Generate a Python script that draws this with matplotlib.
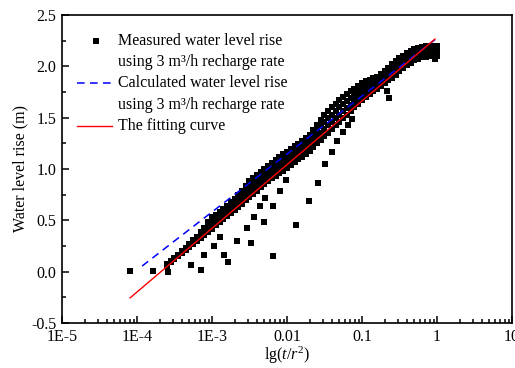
import matplotlib
matplotlib.use("Agg")
import matplotlib.pyplot as plt
from matplotlib.ticker import LogLocator, MultipleLocator, FixedLocator, FixedFormatter, NullFormatter

plt.rcParams['font.family'] = ['Liberation Serif', 'DejaVu Serif']
plt.rcParams['mathtext.fontset'] = 'custom'
plt.rcParams['mathtext.rm'] = 'Liberation Serif'
plt.rcParams['mathtext.it'] = 'Liberation Serif:italic'

# ---- measured data: main band (t/r^2 values and water level rise rows) ----
band_x = [2.51e-4, 3.16e-4, 3.98e-4, 5.01e-4, 6.31e-4, 7.94e-4, 1.0e-3, 1.26e-3, 1.58e-3,
          2.0e-3, 2.51e-3, 3.16e-3, 3.98e-3, 5.01e-3, 6.31e-3, 7.94e-3, 0.01, 0.0126, 0.0158,
          0.02, 0.0251, 0.0316, 0.0398, 0.0501, 0.0631, 0.0794, 0.1, 0.126, 0.158, 0.2,
          0.251, 0.316, 0.398, 0.501, 0.631, 0.794, 1.0]
band_y1 = [0.06, 0.12, 0.18, 0.24, 0.30, 0.36, 0.42, 0.48, 0.54, 0.60, 0.66, 0.73, 0.79,
           0.85, 0.91, 0.96, 1.01, 1.07, 1.12, 1.18, 1.25, 1.32, 1.39, 1.46, 1.53, 1.60,
           1.67, 1.73, 1.78, 1.84, 1.89, 1.95, 2.01, 2.06, 2.09, 2.10, 2.10]
band_y2 = [0.063, 0.123, 0.187, 0.25, 0.313, 0.383, 0.457, 0.513, 0.573, 0.637, 0.703, 0.78,
           0.84, 0.90, 0.96, 1.013, 1.063, 1.12, 1.17, 1.23, 1.31, 1.39, 1.46, 1.53, 1.597,
           1.66, 1.727, 1.777, 1.82, 1.877, 1.933, 1.993, 2.05, 2.097, 2.123, 2.133, 2.133]
band_y3 = [0.067, 0.127, 0.193, 0.26, 0.327, 0.407, 0.493, 0.547, 0.607, 0.673, 0.747, 0.83,
           0.89, 0.95, 1.01, 1.067, 1.117, 1.17, 1.22, 1.28, 1.37, 1.46, 1.53, 1.60, 1.663,
           1.72, 1.783, 1.823, 1.86, 1.913, 1.977, 2.037, 2.09, 2.133, 2.157, 2.167, 2.167]
band_y4 = [0.07, 0.13, 0.20, 0.27, 0.34, 0.43, 0.53, 0.58, 0.64, 0.71, 0.79, 0.88, 0.94,
           1.00, 1.06, 1.12, 1.17, 1.22, 1.27, 1.33, 1.43, 1.53, 1.60, 1.67, 1.73, 1.78,
           1.84, 1.87, 1.90, 1.95, 2.02, 2.08, 2.13, 2.17, 2.19, 2.20, 2.20]

# second set of band readings, between the first ones
band2_x = [2.82e-4, 3.55e-4, 4.47e-4, 5.62e-4, 7.08e-4, 8.91e-4, 1.12e-3, 1.41e-3, 1.78e-3,
           2.24e-3, 2.82e-3, 3.55e-3, 4.47e-3, 5.62e-3, 7.08e-3, 8.91e-3, 0.0112, 0.0141,
           0.0178, 0.0224, 0.0282, 0.0355, 0.0447, 0.0562, 0.0708, 0.0891, 0.112, 0.141,
           0.178, 0.224, 0.282, 0.355, 0.447, 0.562, 0.708, 0.891]
band2_y1 = [0.09, 0.15, 0.21, 0.27, 0.33, 0.39, 0.45, 0.51, 0.57, 0.63, 0.695, 0.76, 0.82,
            0.88, 0.935, 0.985, 1.04, 1.095, 1.15, 1.215, 1.285, 1.355, 1.425, 1.495, 1.565,
            1.635, 1.70, 1.755, 1.81, 1.865, 1.92, 1.98, 2.035, 2.075, 2.095, 2.10]
band2_y2 = [0.093, 0.155, 0.22, 0.28, 0.35, 0.42, 0.485, 0.543, 0.605, 0.67, 0.74, 0.81, 0.87,
            0.93, 0.987, 1.038, 1.09, 1.145, 1.20, 1.27, 1.35, 1.425, 1.495, 1.563, 1.628,
            1.693, 1.752, 1.80, 1.848, 1.905, 1.963, 2.02, 2.073, 2.11, 2.128, 2.133]
band2_y3 = [0.097, 0.16, 0.227, 0.293, 0.367, 0.45, 0.52, 0.577, 0.64, 0.71, 0.79, 0.86, 0.92,
            0.98, 1.038, 1.092, 1.143, 1.195, 1.25, 1.325, 1.415, 1.495, 1.565, 1.632, 1.692,
            1.752, 1.803, 1.842, 1.887, 1.945, 2.007, 2.063, 2.112, 2.145, 2.162, 2.167]
band2_y4 = [0.10, 0.165, 0.235, 0.305, 0.385, 0.48, 0.555, 0.61, 0.675, 0.75, 0.835, 0.91,
            0.97, 1.03, 1.09, 1.145, 1.195, 1.245, 1.30, 1.38, 1.48, 1.565, 1.635, 1.70, 1.755,
            1.81, 1.855, 1.885, 1.925, 1.985, 2.05, 2.105, 2.15, 2.18, 2.195, 2.20]

# ---- measured data: scattered points ----
scat_x = [8.07e-5, 1.62e-4, 2.61e-4, 5.25e-4, 7.19e-4, 7.82e-4, 1.05e-3, 1.29e-3, 1.45e-3,
          1.63e-3, 2.17e-3, 2.90e-3, 3.28e-3, 3.63e-3, 4.37e-3, 4.93e-3, 6.56e-3, 6.50e-3,
          5.09e-3, 8.07e-3, 9.70e-3, 0.0130, 0.0196, 0.0261, 0.0321, 0.0395, 0.0465, 0.0555,
          0.0656, 0.0736, 0.231, 0.213, 0.940, 0.885]
scat_y = [0.004, 0.010, 0.000, 0.062, 0.019, 0.166, 0.250, 0.338, 0.163, 0.094, 0.299, 0.430,
          0.279, 0.533, 0.640, 0.484, 0.150, 0.635, 0.715, 0.781, 0.893, 0.455, 0.688, 0.859,
          1.044, 1.168, 1.273, 1.360, 1.428, 1.487, 1.694, 1.764, 2.071, 2.139]

# ---- calculated and fitted lines ----
calc_x = [1.17e-4, 0.94]
calc_y = [0.055, 2.26]
fit_x = [8.1e-5, 0.94]
fit_y = [-0.255, 2.266]

xtick_vals = [1e-5, 1e-4, 1e-3, 1e-2, 1e-1, 1, 10]
xtick_labels = ['1E-5', '1E-4', '1E-3', '0.01', '0.1', '1', '10']

fig = plt.figure(figsize=(5.15, 3.68), dpi=100)
ax = fig.add_axes([62/515, 1-323/368, 450/515, 308/368])

ms = 4.8
for bx, rows in ((band_x, (band_y1, band_y2, band_y3, band_y4)),
                 (band2_x, (band2_y1, band2_y2, band2_y3, band2_y4))):
    for row in rows:
        ax.plot(bx, row, 's', color='black', ms=ms, mew=0, zorder=2)
ax.plot(scat_x, scat_y, 's', color='black', ms=ms, mew=0, zorder=2)
ax.plot(calc_x, calc_y, color='#0000ff', lw=1.1, dashes=(5, 3.5), zorder=3)
ax.plot(fit_x, fit_y, color='#ff0000', lw=1.0, zorder=4)

ax.set_xscale('log')
ax.set_xlim(1e-5, 10)
ax.set_ylim(-0.5, 2.5)
ax.xaxis.set_major_locator(FixedLocator(xtick_vals))
ax.xaxis.set_major_formatter(FixedFormatter(xtick_labels))
ax.xaxis.set_minor_locator(LogLocator(base=10, subs=range(2, 10), numticks=20))
ax.xaxis.set_minor_formatter(NullFormatter())
ax.yaxis.set_major_locator(MultipleLocator(0.5))
ax.yaxis.set_minor_locator(MultipleLocator(0.25))
ax.yaxis.set_major_formatter(plt.FuncFormatter(lambda v, p: f'{v:.1f}'))

ax.tick_params(which='both', direction='in', top=False, right=False, labelsize=11.5, width=1.1)
ax.tick_params(which='major', length=5, pad=4)
ax.tick_params(which='minor', length=3)
for s in ax.spines.values():
    s.set_linewidth(1.2)

ax.set_ylabel('Water level rise (m)', fontsize=11.5, labelpad=2)
ax.set_xlabel(r'lg($t$/$r^2$)', fontsize=11.5, labelpad=0)

# legend (drawn manually)
def axy(py):
    return (323 - py) / 308
def axx(px):
    return (px - 62) / 450

ax.plot([axx(96)], [axy(41)], 's', color='black', ms=ms, mew=0, transform=ax.transAxes, clip_on=False)
ax.plot([axx(77), axx(112)], [axy(83), axy(83)], color='#0000ff', lw=1.1, dashes=(5, 3.5),
        transform=ax.transAxes, clip_on=False)
ax.plot([axx(77), axx(112)], [axy(126), axy(126)], color='#ff0000', lw=1.0,
        transform=ax.transAxes, clip_on=False)
leg_lines = [(41, 'Measured water level rise'),
             (62, 'using 3 m\u00b3/h recharge rate'),
             (83, 'Calculated water level rise'),
             (105, 'using 3 m\u00b3/h recharge rate'),
             (126, 'The fitting curve')]
for py, txt in leg_lines:
    ax.text(axx(118), axy(py), txt, transform=ax.transAxes, fontsize=11.5, va='center', ha='left')

fig.savefig('out.png', dpi=100)
